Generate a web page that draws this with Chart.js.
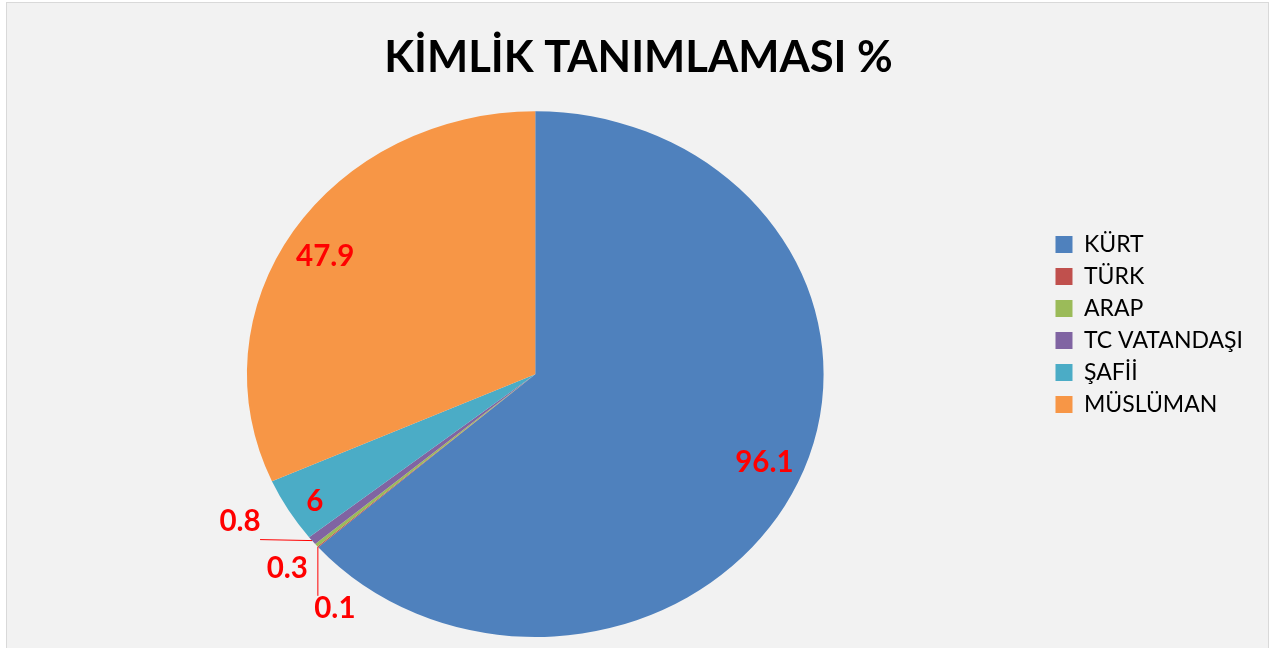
<!DOCTYPE html>
<html>
<head>
<meta charset="utf-8">
<script src="https://cdn.jsdelivr.net/npm/chart.js@4"></script>
<style>
  html, body { margin: 0; padding: 0; background: #fff; overflow: hidden; }
  #bg { position: absolute; left: 6px; top: 2px; width: 1261px; height: 700px; background: #F2F2F2; border: 1px solid #D9D9D9; }
  #wrap { position: absolute; left: 0; top: 0; width: 1274px; height: 648px; }
</style>
</head>
<body>
<div id="bg"></div>
<div id="wrap"><canvas id="pie"></canvas></div>
<script>
// veriler
const categories = ['KÜRT', 'TÜRK', 'ARAP', 'TC VATANDAŞI', 'ŞAFİİ', 'MÜSLÜMAN'];
const values = [96.1, 0.1, 0.3, 0.8, 6, 47.9];
const colors = ['#4F81BD', '#C0504D', '#9BBB59', '#8064A2', '#4BACC6', '#F79646'];

// pasta biraz yatay basık (elips) çiziliyor
const SX = 1.097;

// etiket yerleşimi: f = yarıçap oranı, dx/dy = ek kaydırma, line = kılavuz çizgi
const labelPlace = [
    { f: 0.85, dx: 6, dy: -4 },
    { f: 1, dx: 17, dy: 62, line: [0, 49] },
    { f: 1, dx: -29, dy: 23 },
    { f: 1, dx: -72, dy: -19, line: [-52, -1] },
    { f: 0.91, dx: 4, dy: 3 },
    { f: 0.86, dx: -2, dy: 5 }
];

const ellipsePlugin = {
    id: 'ellipse',
    beforeDatasetsDraw(chart) {
        const arc = chart.getDatasetMeta(0).data[0];
        const ctx = chart.ctx;
        ctx.save();
        ctx.translate(arc.x, arc.y);
        ctx.scale(SX, 1);
        ctx.translate(-arc.x, -arc.y);
    },
    afterDatasetsDraw(chart) {
        const ctx = chart.ctx;
        ctx.restore();
        // değer etiketleri
        ctx.save();
        ctx.font = 'bold 29.5px Lato';
        ctx.fillStyle = '#FF0000';
        ctx.strokeStyle = '#FF0000';
        ctx.lineWidth = 1;
        ctx.textAlign = 'center';
        ctx.textBaseline = 'middle';
        chart.getDatasetMeta(0).data.forEach((arc, i) => {
            const p = labelPlace[i];
            const mid = (arc.startAngle + arc.endAngle) / 2;
            const r = arc.outerRadius * p.f;
            const ax = arc.x + Math.cos(mid) * r * SX;
            const ay = arc.y + Math.sin(mid) * r;
            if (p.line) {
                ctx.beginPath();
                ctx.moveTo(ax, ay);
                ctx.lineTo(ax + p.line[0], ay + p.line[1]);
                ctx.stroke();
            }
            ctx.fillText(String(values[i]), ax + (p.dx || 0), ay + (p.dy || 0));
        });
        ctx.restore();
    }
};

new Chart(document.getElementById('pie'), {
    type: 'pie',
    data: {
        labels: categories,
        datasets: [{
            data: values,
            backgroundColor: colors,
            borderWidth: 0
        }]
    },
    options: {
        responsive: true,
        maintainAspectRatio: false,
        animation: false,
        layout: { padding: { left: 24, right: 21, top: 12, bottom: 11 } },
        plugins: {
            title: {
                display: true,
                text: 'KİMLİK TANIMLAMASI %',
                color: '#000',
                font: { family: 'Lato', size: 43.6, weight: 'bold', lineHeight: 1.2 },
                padding: { top: 20, bottom: 27 }
            },
            legend: {
                position: 'right',
                labels: {
                    color: '#000',
                    boxWidth: 17,
                    boxHeight: 17,
                    padding: 9,
                    font: { family: 'Lato', size: 23, lineHeight: 1.2 }
                }
            },
            tooltip: { enabled: false }
        }
    },
    plugins: [ellipsePlugin]
});
</script>
</body>
</html>
